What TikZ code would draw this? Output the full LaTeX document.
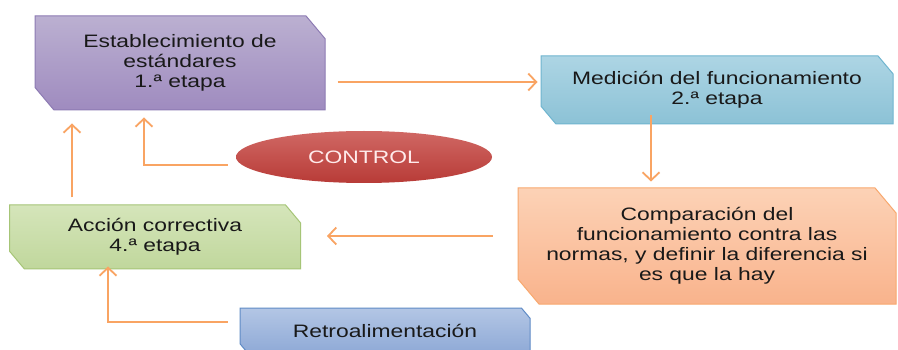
\documentclass[tikz,border=0pt]{standalone}
\usepackage{fontspec}
\setmainfont{Liberation Sans}[FakeStretch=1.27]
\usetikzlibrary{shapes.misc,shapes.geometric,arrows.meta}
\definecolor{lila1}{HTML}{BBB0D1}
\definecolor{lila2}{HTML}{9F8BBF}
\definecolor{lila3}{HTML}{8D7BB3}
\definecolor{cian1}{HTML}{ADD5E4}
\definecolor{cian2}{HTML}{8CC2D6}
\definecolor{cian3}{HTML}{6FB5CF}
\definecolor{naranja1}{HTML}{FCD2B6}
\definecolor{naranja2}{HTML}{F9B38C}
\definecolor{naranja3}{HTML}{F8A86E}
\definecolor{verde1}{HTML}{D5E5BA}
\definecolor{verde2}{HTML}{C0D79C}
\definecolor{verde3}{HTML}{A6C577}
\definecolor{azul1}{HTML}{B3C6E5}
\definecolor{azul2}{HTML}{8EA9D6}
\definecolor{azul3}{HTML}{5F8BC6}
\definecolor{rojo1}{HTML}{D06864}
\definecolor{rojo2}{HTML}{B83B37}
\definecolor{flecha}{HTML}{F9A463}

\begin{document}
\begin{tikzpicture}[x=1pt, y=-1pt, font=\fontsize{18}{20}\selectfont,
  stage/.style = {chamfered rectangle, chamfered rectangle corners={north east,south west},
    chamfered rectangle angle=40, draw, line width=1pt, align=center, inner sep=0pt, text=black!90},
  link/.style = {draw=flecha, line width=1.8pt, -{Straight Barb[length=8pt,width=17pt]}}]
\clip[use as bounding box] (0,0) rectangle (898,350);
\fill[white] (0,0) rectangle (898,350);

\node[stage, top color=lila1, bottom color=lila2, draw=lila3, minimum width=290pt, minimum height=94pt,
  chamfered rectangle xsep=16pt] (1) at (180,63) {Establecimiento de\\estándares\\1.ª etapa};
\node[stage, top color=cian1, bottom color=cian2, draw=cian3, minimum width=352pt, minimum height=68pt,
  chamfered rectangle xsep=12pt] (2) at (717,90) {Medición del funcionamiento\\2.ª etapa};
\node[stage, top color=naranja1, bottom color=naranja2, draw=naranja3, minimum width=378pt, minimum height=116pt,
  chamfered rectangle xsep=18pt] (3) at (707,246) {Comparación del\\funcionamiento contra las\\normas, y definir la diferencia si\\es que la hay};
\node[stage, top color=verde1, bottom color=verde2, draw=verde3, minimum width=291pt, minimum height=64pt,
  chamfered rectangle xsep=12pt] (4) at (155,237) {Acción correctiva\\4.ª etapa};
\node[stage, top color=azul1, bottom color=azul2, draw=azul3, minimum width=290pt, minimum height=46pt,
  chamfered rectangle xsep=11pt] (5) at (385,331) {Retroalimentación};
\node[ellipse, top color=rojo1, bottom color=rojo2, minimum width=256pt, minimum height=52pt,
  text=white!92!red] (c) at (364,157) {CONTROL};

\draw[link] ([shift={(12,19)}]1.east) -- ([shift={(-3,-8)}]2.west);
\draw[link] ([shift={(-66,-9)}]2.south) -- ([shift={(-56,-6)}]3.north);
\draw[link] ([shift={(-25,-10)}]3.west) -- ([shift={(26,-1)}]4.east);
\draw[link] ([shift={(-83,-7)}]4.north) -- ([shift={(-108,13)}]1.south);
\draw[link] ([shift={(-8,8)}]c.west) -| ([shift={(-36,7)}]1.south);
\draw[link] ([shift={(-12,-9)}]5.west) -| ([shift={(-47,-3)}]4.south);
\end{tikzpicture}
\end{document}
